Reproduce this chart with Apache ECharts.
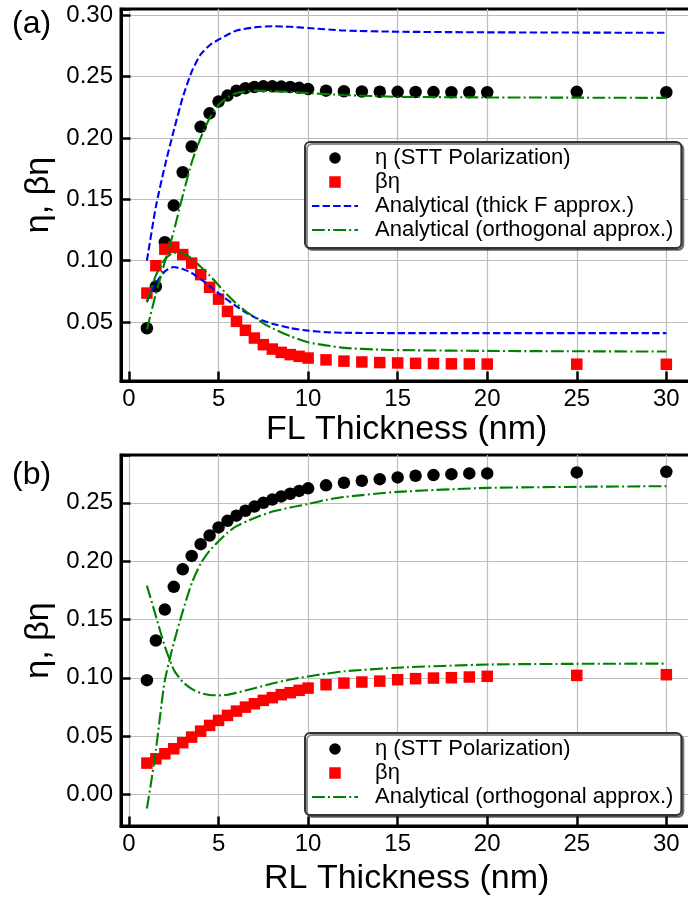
<!DOCTYPE html>
<html>
<head>
<meta charset="utf-8">
<script src="https://cdn.jsdelivr.net/npm/echarts@6/dist/echarts.min.js"></script>
<style>
  html, body { margin: 0; padding: 0; background: #fff; }
  #chart { width: 688px; height: 900px; }
</style>
</head>
<body>
<div id="chart"></div>
<script>
// Layer thickness values (nm) at which the simulations were run
const thickness = [1, 1.5, 2, 2.5, 3, 3.5, 4, 4.5, 5, 5.5, 6, 6.5, 7, 7.5, 8, 8.5, 9, 9.5, 10,
                   11, 12, 13, 14, 15, 16, 17, 18, 19, 20, 25, 30];

// (a) free-layer sweep: simulated η and βη
const etaFL = [0.045, 0.079, 0.115, 0.145, 0.172, 0.193, 0.209, 0.220, 0.2296, 0.2345, 0.2385, 0.2405,
               0.2415, 0.242, 0.242, 0.2418, 0.2415, 0.2408, 0.2398,
               0.2385, 0.238, 0.2378, 0.2376, 0.2375, 0.2374, 0.2373, 0.2372, 0.2372, 0.2372, 0.2375, 0.2372];
const betaEtaFL = [0.0736, 0.0959, 0.1094, 0.111, 0.105, 0.098, 0.0886, 0.0783, 0.0687, 0.0587, 0.0506, 0.0433,
                   0.037, 0.0316, 0.028, 0.0253, 0.0235, 0.0221, 0.0207,
                   0.0192, 0.0182, 0.0175, 0.017, 0.0167, 0.0164, 0.0162, 0.016, 0.0159, 0.0158, 0.0157, 0.0156];

// (a) analytical curves, thick-F approximation
const thickFEtaX = [1, 1.5, 2, 2.5, 3, 3.5, 4, 4.5, 5, 5.5, 6, 7, 8, 9, 10, 12, 15, 20, 25, 30];
const thickFEta  = [0.100, 0.144, 0.177, 0.206, 0.233, 0.254, 0.268, 0.2755, 0.280, 0.284, 0.2875, 0.290,
                    0.291, 0.2905, 0.2895, 0.2875, 0.2865, 0.286, 0.2858, 0.2856];
const thickFBetaX = [1, 1.5, 2, 2.5, 3, 3.5, 4, 4.5, 5, 5.5, 6, 6.5, 7, 7.5, 8, 9, 10, 11, 12, 15, 20, 25, 30];
const thickFBeta  = [0.0669, 0.0818, 0.0913, 0.0948, 0.0932, 0.090, 0.085, 0.0795, 0.0736, 0.068, 0.0628, 0.058,
                     0.054, 0.051, 0.0487, 0.0451, 0.043, 0.0418, 0.0413, 0.041, 0.041, 0.041, 0.041];

// (a) analytical curves, orthogonal approximation
const orthoEtaFLX = [1, 1.5, 2, 2.5, 3, 3.5, 4, 4.5, 5, 5.5, 6, 7, 8, 9, 10, 12, 15, 20, 25, 30];
const orthoEtaFL  = [0.044, 0.073, 0.099, 0.124, 0.153, 0.180, 0.200, 0.216, 0.227, 0.233, 0.2365, 0.2385,
                     0.238, 0.2375, 0.2365, 0.235, 0.2335, 0.233, 0.2328, 0.2326];
const orthoBetaFLX = [1, 1.5, 2, 2.5, 3, 3.5, 4, 4.5, 5, 5.5, 6, 6.5, 7, 7.5, 8, 9, 10, 11, 12, 14, 16, 20, 25, 30];
const orthoBetaFL  = [0.066, 0.088, 0.101, 0.1065, 0.106, 0.102, 0.095, 0.088, 0.080, 0.072, 0.065, 0.059,
                      0.054, 0.049, 0.045, 0.0385, 0.0335, 0.031, 0.029, 0.0275, 0.027, 0.0265, 0.0262, 0.026];

// (b) reference-layer sweep: simulated η and βη
const etaRL = [0.098, 0.132, 0.1585, 0.178, 0.1931, 0.2045, 0.2146, 0.222, 0.2289, 0.2346, 0.239, 0.2432,
               0.2468, 0.250, 0.2528, 0.2555, 0.2578, 0.2602, 0.2624,
               0.265, 0.2672, 0.2689, 0.2703, 0.2718, 0.2732, 0.2738, 0.2746, 0.2752, 0.2752, 0.2761, 0.2766];
const betaEtaRL = [0.0269, 0.0306, 0.0349, 0.0392, 0.0444, 0.0492, 0.0543, 0.0592, 0.0635, 0.0678, 0.0715, 0.0749,
                   0.0778, 0.0807, 0.083, 0.0856, 0.0873, 0.0893, 0.0912,
                   0.0941, 0.0955, 0.0964, 0.0972, 0.0984, 0.0993, 0.0998, 0.1001, 0.1007, 0.1013, 0.1021, 0.1027];

// (b) analytical curves, orthogonal approximation
const orthoEtaRLX = [1, 1.25, 1.5, 1.75, 2, 2.5, 3, 3.5, 4, 4.5, 5, 5.5, 6, 7, 8, 9, 10, 11, 12, 15, 20, 25, 30];
const orthoEtaRL  = [-0.012, 0.012, 0.038, 0.069, 0.098, 0.130, 0.157, 0.181, 0.198, 0.209, 0.217, 0.2245,
                     0.230, 0.237, 0.2425, 0.246, 0.249, 0.2525, 0.255, 0.2594, 0.2628, 0.2637, 0.2643];
const orthoBetaRLX = [1, 1.5, 2, 2.5, 3, 3.5, 4, 4.5, 5, 5.5, 6, 7, 8, 9, 10, 11, 12, 15, 20, 25, 30];
const orthoBetaRL  = [0.179, 0.153, 0.127, 0.107, 0.0965, 0.0905, 0.087, 0.0853, 0.085, 0.0855, 0.0872, 0.091,
                      0.0952, 0.0985, 0.1012, 0.1036, 0.1056, 0.1087, 0.1114, 0.112, 0.1122];

// Axis tick labels
const xTicks = [0, 5, 10, 15, 20, 25, 30];
const yTicksFL = [0.05, 0.10, 0.15, 0.20, 0.25, 0.30];
const yTicksRL = [0.00, 0.05, 0.10, 0.15, 0.20, 0.25];

const NAME_ETA = 'η (STT Polarization)';
const NAME_BETA = 'βη';
const NAME_THICK = 'Analytical (thick F approx.)';
const NAME_ORTHO = 'Analytical (orthogonal approx.)';

const FONT = '"Liberation Sans", Arial, sans-serif';

function pairs(xs, ys) {
  return xs.map((x, i) => [x, ys[i]]);
}

function onTick(list) {
  return v => list.some(t => Math.abs(t - v) < 1e-9);
}

function xAxisFor(gridIndex, title, gap) {
  const isTick = onTick(xTicks);
  return {
    type: 'value', gridIndex,
    min: -0.447, max: 31.45,
    minInterval: 5, maxInterval: 5,
    name: title, nameLocation: 'middle', nameGap: gap,
    nameTextStyle: { fontSize: 34, color: '#000', fontFamily: FONT },
    axisLine: { show: true, onZero: false, lineStyle: { color: '#000', width: 3 } },
    axisTick: { show: true, inside: true, length: 9.5, lineStyle: { color: '#000', width: 2.5 } },
    axisLabel: {
      fontSize: 24, color: '#000', fontFamily: FONT, margin: 6,
      formatter: v => (isTick(v) ? String(v) : '')
    },
    splitLine: { show: true, showMinLine: false, showMaxLine: false,
                 lineStyle: { color: '#bdbdbd', width: 1.2 } }
  };
}

function yAxisFor(gridIndex, min, max, ticks) {
  const isTick = onTick(ticks);
  return {
    type: 'value', gridIndex, min, max,
    minInterval: 0.05, maxInterval: 0.05,
    name: 'η, βη', nameLocation: 'middle', nameGap: 63,
    nameTextStyle: { fontSize: 34, color: '#000', fontFamily: FONT },
    axisLine: { show: true, onZero: false, lineStyle: { color: '#000', width: 3 } },
    axisTick: { show: true, inside: true, length: 9.5, lineStyle: { color: '#000', width: 2.5 } },
    axisLabel: {
      fontSize: 24, color: '#000', fontFamily: FONT, margin: 8,
      formatter: v => (isTick(v) ? v.toFixed(2) : '')
    },
    splitLine: { show: true, showMinLine: false, showMaxLine: false,
                 lineStyle: { color: '#bdbdbd', width: 1.2 } }
  };
}

function dots(name, idx, ys) {
  return {
    type: 'scatter', name, xAxisIndex: idx, yAxisIndex: idx,
    data: pairs(thickness, ys), symbol: 'circle', symbolSize: 12.5,
    itemStyle: { color: '#000', opacity: 1 }
  };
}

function squares(name, idx, ys) {
  return {
    type: 'scatter', name, xAxisIndex: idx, yAxisIndex: idx,
    data: pairs(thickness, ys), symbol: 'rect', symbolSize: 11.5,
    itemStyle: { color: '#ff0000', opacity: 1 }
  };
}

const DASHED = [7.4, 3.2];
const DASHDOT = [12.8, 3.2, 2, 3.2];

function curve(name, idx, xs, ys, color, dash) {
  return {
    type: 'line', name, xAxisIndex: idx, yAxisIndex: idx,
    data: pairs(xs, ys), symbol: 'none', showSymbol: false,
    smooth: 0.2,
    itemStyle: { color },
    lineStyle: { color, width: 2.1, type: dash }
  };
}

const SQUARE_ICON = 'path://M0,0 L10,0 L10,10 L0,10 Z';

function legendFor(top, names) {
  return {
    orient: 'vertical', left: 305, top,
    data: names.map(n => {
      if (n === NAME_ETA) return { name: n, icon: 'circle' };
      if (n === NAME_BETA) return { name: n, icon: SQUARE_ICON };
      // line entries: keep the series' line, hide the marker dot
      return { name: n, itemStyle: { opacity: 0 } };
    }),
    itemWidth: 46, itemHeight: 11.5, itemGap: 2,
    symbolKeepAspect: true,
    padding: [5, 8, 7, 6],
    selectedMode: false,
    textStyle: { fontSize: 22, lineHeight: 22, color: '#000', fontFamily: FONT, padding: [0, 0, 0, 12] },
    backgroundColor: '#fff',
    borderColor: '#333', borderWidth: 2, borderRadius: 5,
    shadowColor: 'rgba(0,0,0,0.45)', shadowOffsetX: 2, shadowOffsetY: 2, shadowBlur: 0
  };
}

const chart = echarts.init(document.getElementById('chart'), null, { renderer: 'canvas' });

chart.setOption({
  animation: false,
  backgroundColor: '#fff',
  textStyle: { fontFamily: FONT },
  grid: [
    { left: 121, top: 9, right: -4.3, height: 372, show: true, outerBoundsMode: 'none',
      borderColor: '#000', borderWidth: 3, backgroundColor: 'transparent' },
    { left: 121, top: 455, right: -4.3, height: 371, show: true, outerBoundsMode: 'none',
      borderColor: '#000', borderWidth: 3, backgroundColor: 'transparent' }
  ],
  xAxis: [
    xAxisFor(0, 'FL Thickness (nm)', 32),
    xAxisFor(1, 'RL Thickness (nm)', 36)
  ],
  yAxis: [
    yAxisFor(0, 0.002, 0.305, yTicksFL),
    yAxisFor(1, -0.027, 0.291, yTicksRL)
  ],
  legend: [
    legendFor(142, [NAME_ETA, NAME_BETA, NAME_THICK, NAME_ORTHO]),
    legendFor(733, [NAME_ETA, NAME_BETA, NAME_ORTHO])
  ],
  graphic: [
    { type: 'text', left: 12, top: 8, style: { text: '(a)', fontSize: 32, fontFamily: FONT, fill: '#000' } },
    { type: 'text', left: 12, top: 459, style: { text: '(b)', fontSize: 32, fontFamily: FONT, fill: '#000' } }
  ],
  series: [
    dots(NAME_ETA, 0, etaFL),
    squares(NAME_BETA, 0, betaEtaFL),
    curve(NAME_THICK, 0, thickFEtaX, thickFEta, '#0000ff', DASHED),
    curve(NAME_THICK, 0, thickFBetaX, thickFBeta, '#0000ff', DASHED),
    curve(NAME_ORTHO, 0, orthoEtaFLX, orthoEtaFL, '#008000', DASHDOT),
    curve(NAME_ORTHO, 0, orthoBetaFLX, orthoBetaFL, '#008000', DASHDOT),

    dots(NAME_ETA, 1, etaRL),
    squares(NAME_BETA, 1, betaEtaRL),
    curve(NAME_ORTHO, 1, orthoEtaRLX, orthoEtaRL, '#008000', DASHDOT),
    curve(NAME_ORTHO, 1, orthoBetaRLX, orthoBetaRL, '#008000', DASHDOT)
  ]
});
</script>
</body>
</html>
